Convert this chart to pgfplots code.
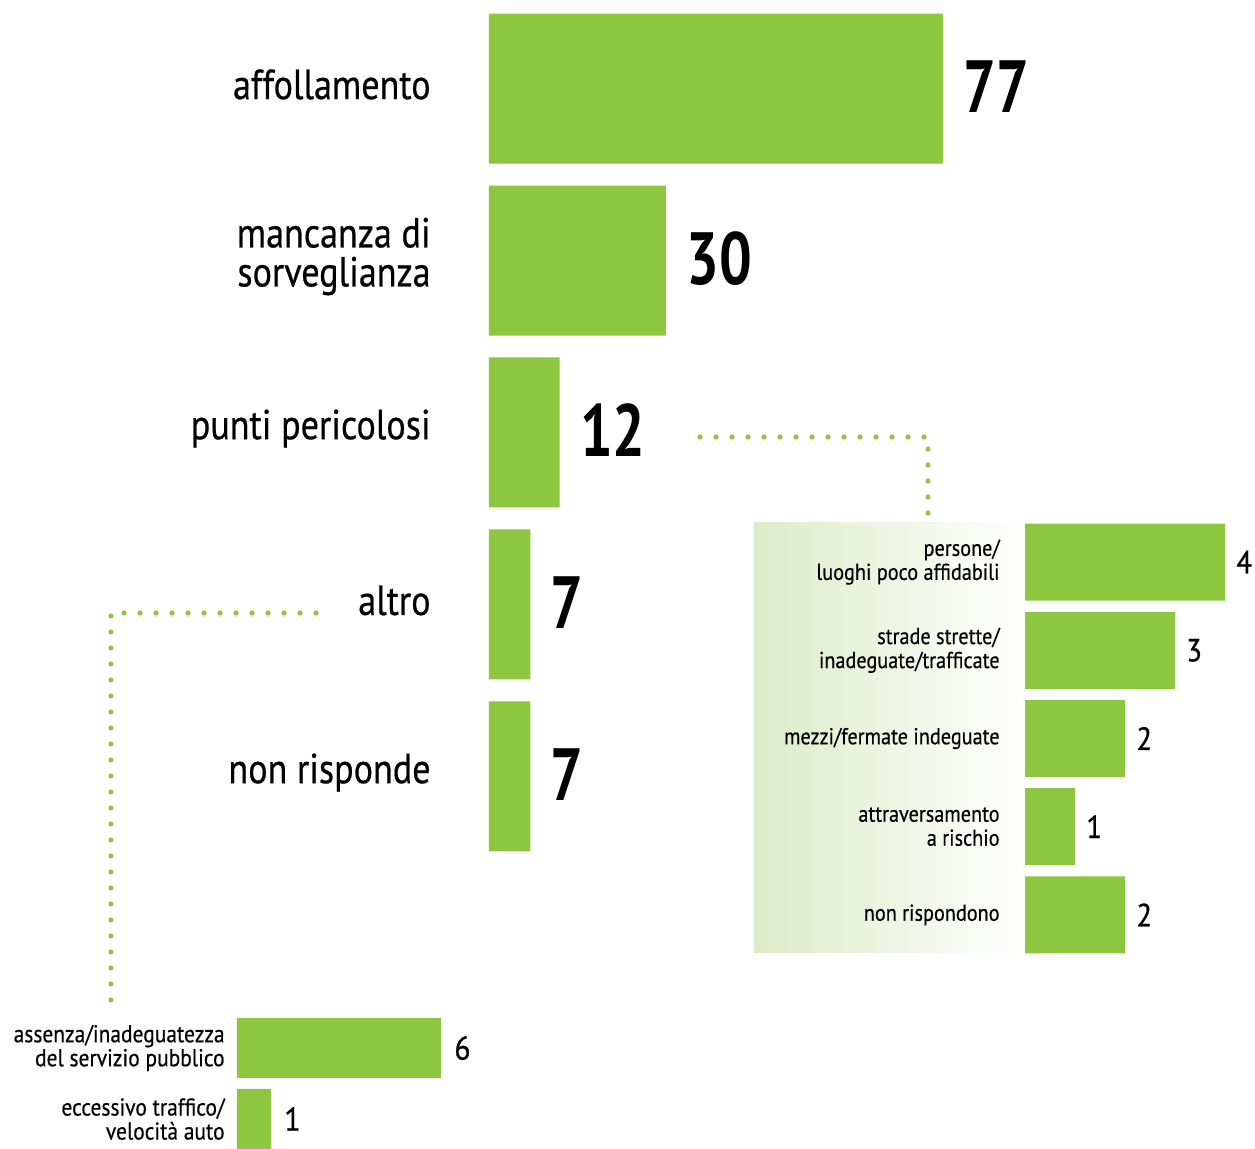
\documentclass[border=0pt]{standalone}
\usepackage{pgfplots}
\pgfplotsset{compat=1.18}
\usepackage{fontspec}
\setmainfont{PT Sans}
\newfontfamily\condfont{PT Sans}[FakeStretch=0.86, FakeBold=0.5]
\newfontfamily\numfont{PT Sans}[FakeStretch=0.78]
\newfontfamily\smallfont{PT Sans}[FakeStretch=0.88, FakeBold=0.4]
\newfontfamily\midnum{PT Sans}[FakeStretch=0.9, FakeBold=0.8]
\definecolor{bargreen}{HTML}{8DC63F}
\definecolor{bggreen}{HTML}{DDEBC7}
\pgfplotsset{infobar/.style={xbar, scale only axis, y dir=reverse,
  axis line style={draw=none}, major tick length=0pt, xtick=\empty,
  enlargelimits=false, clip=false, xmin=0,
  /pgf/number format/assume math mode=true,
  nodes near coords, nodes near coords align=horizontal,
  every node near coord/.append style={anchor=west, inner sep=0pt, text=black},
  yticklabel style={align=right, inner sep=0pt, anchor=east, text=black},
  ymin=0.5, anchor=north west}}
\begin{document}
\begin{tikzpicture}[x=0.5pt,y=-0.5pt]
\useasboundingbox (0,0) rectangle (1255,1149);
\shade[left color=bggreen, right color=white] (754,523) rectangle (1025,953);
\draw[bargreen, line width=2.6pt, line cap=round, dash pattern=on 0pt off 8pt] (700,437) -- (928,437) -- (928,514);
\draw[bargreen, line width=2.6pt, line cap=round, dash pattern=on 0pt off 8pt] (316,613) -- (111,613) -- (111,1003);

% main chart
\begin{axis}[infobar, at={(244.5pt,-1.25pt)}, width=227pt, height=430pt,
  xmax=77, ymax=5.5, bar width=75pt,
  ytick={1,2,3,4,5},
  yticklabels={affollamento,{mancanza di\\sorveglianza},punti pericolosi,altro,non risponde},
  yticklabel style={xshift=-29pt, yshift=2pt, font=\condfont\fontsize{21}{19.5}\selectfont},
  every node near coord/.append style={xshift=10pt, yshift=1pt, font=\numfont\bfseries\fontsize{37}{37}\selectfont}]
\addplot[fill=bargreen, draw=none] coordinates {(77,1) (30,2) (12,3) (7,4) (7,5)};
\end{axis}

% right inset
\begin{axis}[infobar, at={(512.5pt,-259pt)}, width=100pt, height=220.5pt,
  xmax=4, ymax=5.5, bar width=38.5pt,
  ytick={1,2,3,4,5},
  yticklabels={{persone/\\luoghi poco affidabili},{strade strette/\\inadeguate/trafficate},mezzi/fermate indeguate,{attraversamento\\a rischio},non rispondono},
  yticklabel style={xshift=-12.5pt, font=\smallfont\fontsize{11.5}{12}\selectfont},
  every node near coord/.append style={xshift=5.5pt, font=\midnum\fontsize{16}{16}\selectfont}]
\addplot[fill=bargreen, draw=none] coordinates {(4,1) (3,2) (2,3) (1,4) (2,5)};
\end{axis}

% bottom-left inset
\begin{axis}[infobar, at={(118.5pt,-506.25pt)}, width=102pt, height=71pt,
  xmax=6, ymax=2.5, bar width=30pt,
  ytick={1,2},
  yticklabels={{assenza/inadeguatezza\\del servizio pubblico},{eccessivo traffico/\\velocità auto}},
  yticklabel style={xshift=-6pt, font=\smallfont\fontsize{12.2}{12}\selectfont},
  every node near coord/.append style={xshift=6.5pt, font=\midnum\fontsize{16.5}{16}\selectfont}]
\addplot[fill=bargreen, draw=none] coordinates {(6,1) (1,2)};
\end{axis}
\end{tikzpicture}
\end{document}
